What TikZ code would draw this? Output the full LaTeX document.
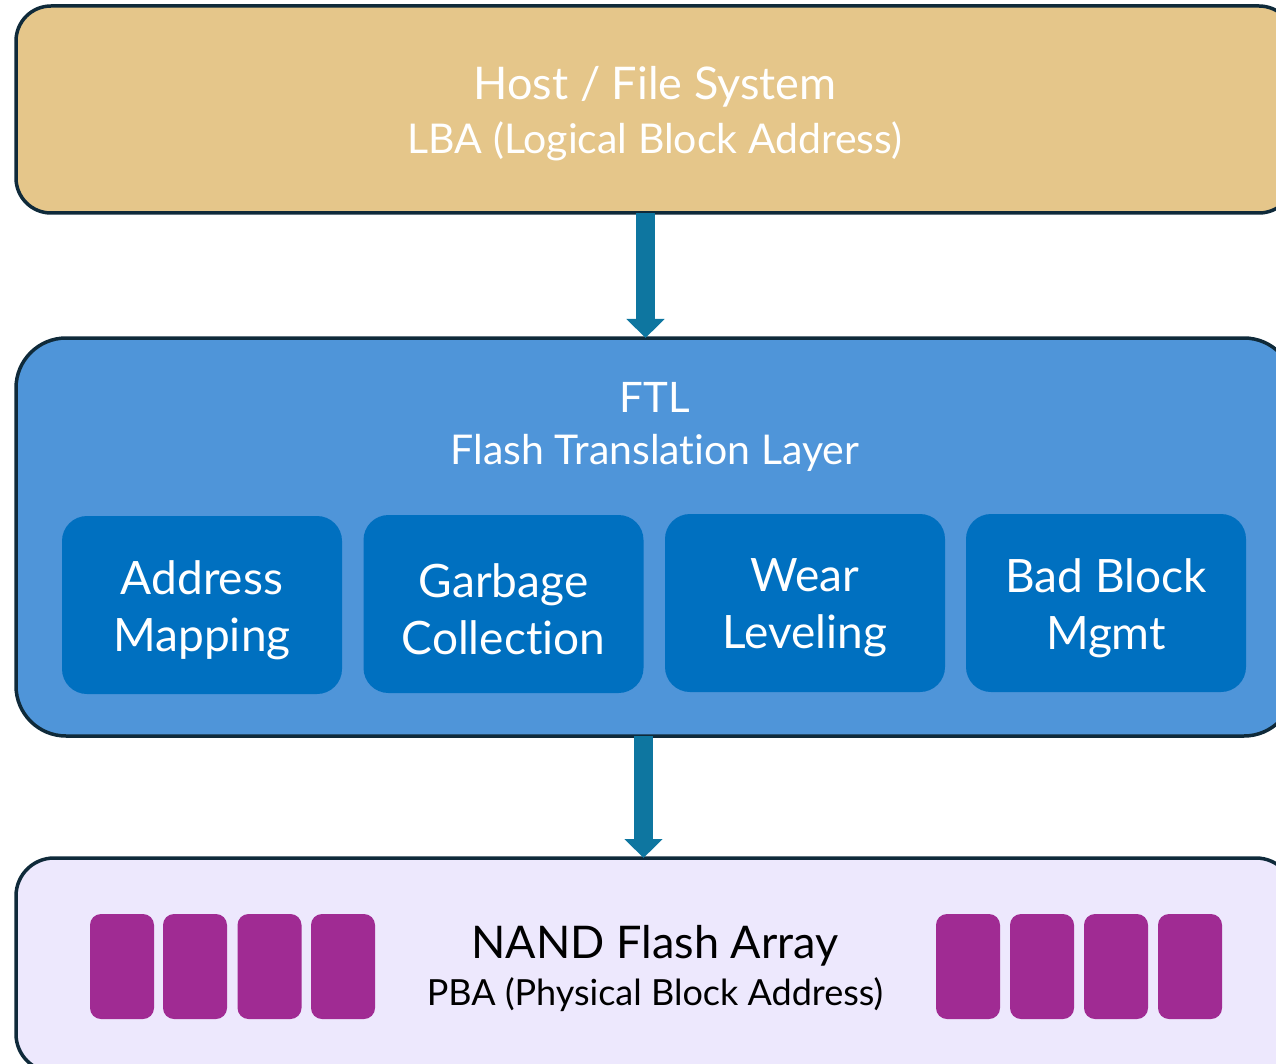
\documentclass[tikz,border=0pt]{standalone}
\usepackage{fontspec}
\setmainfont{Lato}[Ligatures=NoCommon]
\usetikzlibrary{arrows.meta}
\definecolor{edgec}{HTML}{0F2A3A}
\definecolor{hostfill}{HTML}{E5C68A}
\definecolor{ftlfill}{HTML}{4F95D9}
\definecolor{subfill}{HTML}{0070C0}
\definecolor{nandfill}{HTML}{EDE8FD}
\definecolor{cellfill}{HTML}{A02B93}
\definecolor{arrowc}{HTML}{0E76A0}
\begin{document}
\begin{tikzpicture}[x=1pt,y=-1pt,
  layer/.style={draw=edgec, line width=3.5pt, inner sep=0pt, outer sep=0pt, minimum width=1278pt},
  subbox/.style={fill=subfill, rounded corners=25pt, minimum width=280pt, minimum height=178pt, inner sep=0pt},
  subtxt/.style={inner sep=0pt, text=white, align=center, font=\fontsize{46}{57}\selectfont},
  cell/.style={fill=cellfill, rounded corners=11pt, minimum width=64pt, minimum height=105pt, inner sep=0pt},
  flow/.style={draw=arrowc, line width=19pt, -{Triangle[width=37pt,length=19pt]}},
  lbl/.style={anchor=base, inner sep=0pt}
]
\useasboundingbox (0,0) rectangle (1276,1064);
\clip (0,0) rectangle (1276,1064);

% layers
\node[layer, fill=hostfill, rounded corners=35pt, minimum height=207pt] (host) at (655,109.5) {};
\node[layer, fill=ftlfill, rounded corners=50pt, minimum height=398pt] (ftl) at (655,537) {};
\node[layer, fill=nandfill, rounded corners=38pt, minimum height=214pt] (nand) at (655,965) {};

% host texts
\node[lbl, text=white, font=\fontsize{45}{50}\selectfont] (hosttitle) at (655,100) {Host / File System};
\node[lbl, text=white, font=\fontsize{41}{46}\selectfont] (hostsub) at (655,154) {LBA (Logical Block Address)};

% ftl texts
\node[lbl, text=white, font=\fontsize{42}{48}\selectfont] (ftltitle) at (655,412) {FTL};
\node[lbl, text=white, font=\fontsize{41}{46}\selectfont] (ftlsub) at (655,464) {Flash Translation Layer};

% sub boxes
\node[subbox] (addr) at (202,605) {};
\node[subbox] (gc) at (503.5,604) {};
\node[subbox] (wl) at (805,603) {};
\node[subbox] (bbm) at (1106,603) {};
\node[subtxt] (addrtxt) at (202,610) {Address\\Mapping};
\node[subtxt] (gctxt) at (503.5,609) {Garbage\\Collection};
\node[subtxt] (wltxt) at (805,608) {Wear\\Leveling};
\node[subtxt] (bbmtxt) at (1106,608) {Bad Block\\Mgmt};

% nand texts
\node[lbl, text=black, font=\fontsize{45}{52}\selectfont] (nandtitle) at (655,958) {NAND Flash Array};
\node[lbl, text=black, font=\fontsize{36}{42}\selectfont] (nandsub) at (655,1005) {PBA (Physical Block Address)};

% cells
\node[cell] (cl1) at (122,966.5) {};
\node[cell] (cl2) at (195,966.5) {};
\node[cell] (cl3) at (269.5,966.5) {};
\node[cell] (cl4) at (343,966.5) {};
\node[cell] (cr1) at (968,966.5) {};
\node[cell] (cr2) at (1042,966.5) {};
\node[cell] (cr3) at (1116,966.5) {};
\node[cell] (cr4) at (1190,966.5) {};

% arrows
\coordinate (a1) at (645.5,0);
\coordinate (a2) at (643.5,0);
\draw[flow] (host.south -| a1) -- (ftl.north -| a1);
\draw[flow] (ftl.south -| a2) -- (nand.north -| a2);
\end{tikzpicture}
\end{document}
